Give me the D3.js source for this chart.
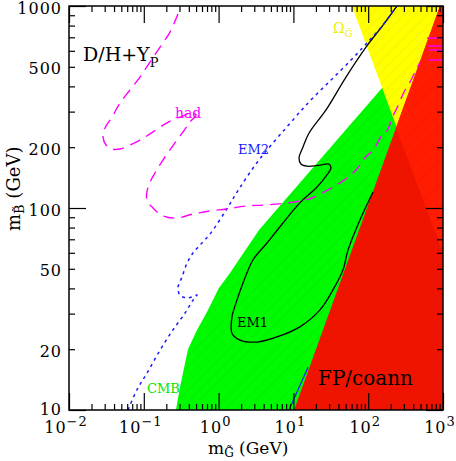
<!DOCTYPE html>
<html><head><meta charset="utf-8">
<script src="https://cdn.jsdelivr.net/npm/d3@7"></script>
<style>body{margin:0;background:#fff} svg{display:block}</style>
</head><body><svg id="c" width="456" height="461"></svg>
<script>
// ---- data (GeV) ----
const xDomain = [0.01, 1000];
const yDomain = [10, 1000];
const xTickExps = [-2, -1, 0, 1, 2, 3];
const yTickLabels = [10, 20, 50, 100, 200, 500, 1000];

const cmbRegion = [[0.269,9],[0.269,10],[0.305,13.0],[0.390,20.0],[0.514,24.9],[0.70,30.6],[1.01,40.2],[1.42,47.7],[3.47,77.8],[153,393],[2000,393],[2000,9]];
const omegaRegion = [[60.7,1000],[1000,59.8],[2000,40],[2000,2000],[60.7,2000]];
const fpRegion = [[9.6,9],[10.2,10],[912,1000],[960,1100],[2000,1100],[2000,9]];
const fpOmegaOverlap = [[235,249],[912,1000],[960,1100],[2000,1100],[2000,40],[1000,59.8]];

const em1Contour = [[242,1000],[158,805],[93.5,626],[50.5,445],[27.3,306],[16.2,235],[13.4,200],[11.9,177],[12.6,165],[15.2,161],[22.7,163],[29.9,165],[31.8,158],[28.1,146],[20.7,127],[12.2,106],[7.26,84.3],[4.44,67.1],[2.88,55.3],[2.12,42.5],[1.76,35.0],[1.51,28.9],[1.51,24.0],[1.93,22.2],[3.26,21.7],[6.04,23.0],[12.2,25.8],[22.7,31.3],[33.8,39.3],[46.0,49.3],[53.7,61.9],[77.6,87.2],[116,120]];

const em2Contour = [[0.0615,10],[0.0811,12.6],[0.110,15.2],[0.165,19.8],[0.245,24.9],[0.356,30.2],[0.455,35.0],[0.514,37.1],[0.379,35.8],[0.305,37.1],[0.286,40.2],[0.324,45.5],[0.379,53.4],[0.455,59.9],[0.564,65.6],[0.767,74.3],[1.26,97.7],[1.87,124],[3.47,173],[7.96,249],[16.2,335],[31.8,430],[58.9,540],[93.5,648],[153,796],[242,1000]];

const cmbEdgeSeg = [[8.73,10],[15.7,16.3]];

const hadContour = [[0.286,913],[0.224,743],[0.165,626],[0.121,528],[0.0889,445],[0.0654,384],[0.0481,331],[0.0376,282],[0.0303,249],[0.0285,225],[0.0313,205],[0.0376,196],[0.0481,196],[0.0654,205],[0.0889,217],[0.133,238],[0.204,264],[0.305,282],[0.441,295],[0.499,289],[0.415,267],[0.356,246],[0.261,210],[0.181,173],[0.141,149],[0.114,127],[0.110,109.6],[0.133,100],[0.181,91.3],[0.278,89.2],[0.455,93.4],[0.767,96.7],[1.26,98.9],[2.32,102.3],[4.17,103.5],[8.21,105.8],[12.2,108.2],[17.7,112.1],[24.1,118.6],[36.0,128.5],[52.1,140.8],[70.8,156],[90.6,177],[120,196],[144,222],[184,246],[208,279],[250,320],[301,375],[351,411],[423,471],[493,528]];
const hadEdgeSegs = [[[611,694],[1000,694]],[[625,634],[1000,634]],[[640,605],[1000,605]],[[640,540],[1000,540]]];

// ---- scales ----
const X0 = 69, X1 = 443, Y0 = 6, Y1 = 410;
const xs = d3.scaleLog().domain(xDomain).range([X0, X1]);
const ys = d3.scaleLog().domain(yDomain).range([Y1, Y0]);

const svg = d3.select('#c');
const defs = svg.append('defs');
defs.append('clipPath').attr('id','clip').append('rect').attr('x',X0).attr('y',Y0).attr('width',X1-X0).attr('height',Y1-Y0);
const pat = defs.append('pattern').attr('id','hatch').attr('width',8).attr('height',8)
  .attr('patternUnits','userSpaceOnUse').attr('patternTransform','rotate(45)');
pat.append('line').attr('x1',0).attr('y1',0).attr('x2',0).attr('y2',8).attr('stroke','rgba(0,0,0,0.05)').attr('stroke-width',1.5);

const line = d3.line().x(d=>xs(d[0])).y(d=>ys(d[1]));
const smooth = d3.line().x(d=>xs(d[0])).y(d=>ys(d[1])).curve(d3.curveCatmullRom.alpha(0.5));

const g = svg.append('g').attr('clip-path','url(#clip)');
function region(data, color){
  g.append('path').attr('d', line(data)+'Z').attr('fill', color).attr('stroke','none');
  g.append('path').attr('d', line(data)+'Z').attr('fill', 'url(#hatch)').attr('stroke','none');
}
region(cmbRegion, '#00fa00');
region(omegaRegion, '#ffff00');
region(fpRegion, '#f01400');
g.append('path').attr('d', line(fpOmegaOverlap)+'Z').attr('fill','#ff1c00');
g.append('path').attr('d', line(fpOmegaOverlap)+'Z').attr('fill','url(#hatch)');

g.append('path').attr('d', smooth(em1Contour)).attr('fill','none').attr('stroke','#000').attr('stroke-width',1.3);
g.append('path').attr('d', smooth(em2Contour)).attr('fill','none').attr('stroke','#1a1aff').attr('stroke-width',1.5).attr('stroke-dasharray','3,4');
g.append('path').attr('d', line(cmbEdgeSeg)).attr('fill','none').attr('stroke','#1a1aff').attr('stroke-width',1.2);
g.append('path').attr('d', smooth(hadContour)).attr('fill','none').attr('stroke','#ff00ff').attr('stroke-width',1.4).attr('stroke-dasharray','11,7');
hadEdgeSegs.forEach(s=>g.append('path').attr('d', line(s)).attr('fill','none').attr('stroke','#ff00ff').attr('stroke-width',1.4));

// ---- labels ----
const serif = 'DejaVu Serif';
function label(x, y, parts, size, color){
  const t = svg.append('text').attr('x',x).attr('y',y).attr('font-family',serif).attr('font-size',size).attr('fill',color);
  parts.forEach(p=>{ const s=t.append('tspan').text(p.t); if(p.dy) s.attr('dy',p.dy); if(p.fs) s.attr('font-size',p.fs); });
  return t;
}
label(83, 61, [{t:'D/H+Y'},{t:'P',dy:6,fs:13}], 19, '#000');
label(175, 118, [{t:'had'}], 14, '#ff00ff');
label(238, 154, [{t:'EM2'}], 13, '#1a1aff');
label(237, 327, [{t:'EM1'}], 13, '#000');
label(147, 393, [{t:'CMB'}], 13, '#00e600');
label(318, 385, [{t:'FP/coann'}], 20, '#000');
label(333, 33, [{t:'Ω'},{t:'G\u0303',dy:4,fs:10}], 14, '#eeee00');

// ---- axes ----
const minorsX = [], minorsY = [];
[0.01,0.1,1,10,100].forEach(d=>{for(let k=2;k<=9;k++) minorsX.push(k*d);});
[10,100].forEach(d=>{for(let k=2;k<=9;k++) minorsY.push(k*d);});
const majorsX = xTickExps.map(e=>Math.pow(10,e));
const majorsY = [10,100,1000];
function ax(axisFn, scale, vals, size, tr){
  const a = svg.append('g').attr('transform',tr).call(axisFn(scale).tickValues(vals).tickSize(-size).tickFormat(''));
  a.select('.domain').remove();
  a.selectAll('line').attr('stroke','#000').attr('stroke-width',1.2);
}
ax(d3.axisBottom, xs, majorsX, 17, `translate(0,${Y1})`);
ax(d3.axisBottom, xs, minorsX, 6, `translate(0,${Y1})`);
ax(d3.axisTop, xs, majorsX, 17, `translate(0,${Y0})`);
ax(d3.axisTop, xs, minorsX, 6, `translate(0,${Y0})`);
ax(d3.axisLeft, ys, majorsY, 17, `translate(${X0},0)`);
ax(d3.axisLeft, ys, minorsY, 6, `translate(${X0},0)`);
ax(d3.axisRight, ys, majorsY, 17, `translate(${X1},0)`);
ax(d3.axisRight, ys, minorsY, 6, `translate(${X1},0)`);
svg.append('rect').attr('x',X0).attr('y',Y0).attr('width',X1-X0).attr('height',Y1-Y0).attr('fill','none').attr('stroke','#000').attr('stroke-width',1.5);

yTickLabels.forEach(v=>{
  svg.append('text').attr('x',X0-7).attr('y',ys(v)+(v===10?5:7.5)).attr('text-anchor','end')
    .attr('font-family',serif).attr('font-size',16).attr('letter-spacing',1).attr('fill','#000').text(v);
});
xTickExps.forEach(e=>{
  const t = svg.append('text').attr('x',xs(Math.pow(10,e))-3).attr('y',433).attr('text-anchor','middle')
    .attr('font-family',serif).attr('font-size',16).attr('letter-spacing',1).attr('fill','#000');
  t.append('tspan').text('10');
  t.append('tspan').attr('dy',-7).attr('font-size',13).text(e<0?'\u2212'+(-e):String(e));
});
// axis titles
label(208, 454, [{t:'m'},{t:'G\u0303',dy:3,fs:12},{t:' (GeV)',dy:-3}], 17, '#000');
const yt = svg.append('text').attr('transform','translate(20,231) rotate(-90)').attr('font-family',serif).attr('font-size',18).attr('fill','#000');
yt.append('tspan').text('m');
yt.append('tspan').attr('dy',4).attr('font-size',13).text('B\u0303');
yt.append('tspan').attr('dy',-4).text(' (GeV)');
</script></body></html>
